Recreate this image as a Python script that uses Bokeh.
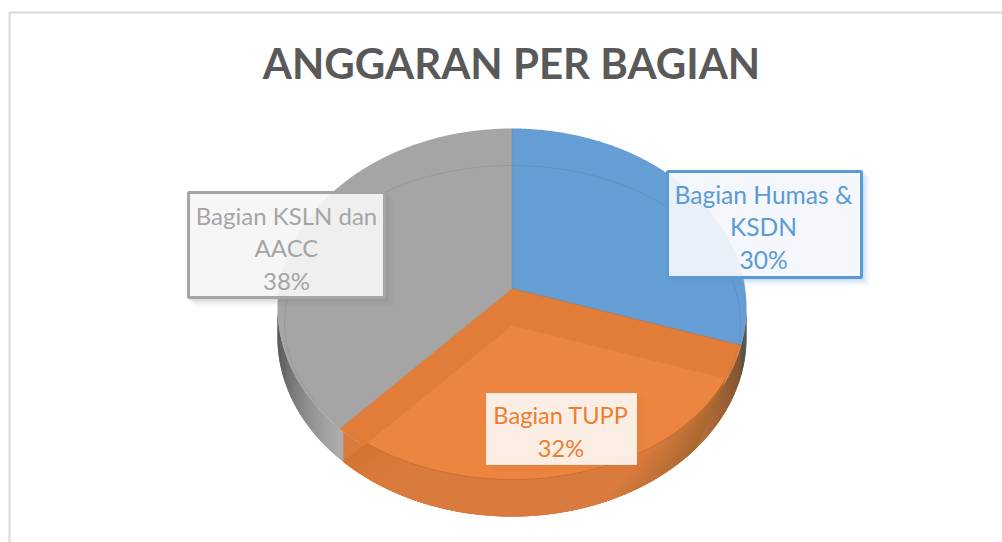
import numpy as np
from bokeh.plotting import figure
from bokeh.embed import file_html
from bokeh.resources import INLINE
from bokeh.core.properties import value

title = "ANGGARAN PER BAGIAN"
categories = ["Bagian Humas & KSDN", "Bagian TUPP", "Bagian KSLN dan AACC"]
shares = [30, 32, 38]
series_colors = ["#659DD5", "#E17D39", "#A5A5A5"]
text_colors = ["#5B9BD5", "#ED7D31", "#A5A5A5"]

W, H = 1002, 542
p = figure(width=W, height=H, x_range=(0, W), y_range=(H, 0),
           output_backend="svg", toolbar_location=None, min_border=0,
           x_axis_type=None, y_axis_type=None, outline_line_color=None)
p.grid.visible = False
p.background_fill_color = "white"
p.border_fill_color = "white"

# frame
p.line([9, 9, 1002], [542, 12, 12], line_color="#D9D9D9", line_width=2)

# pie geometry
CX, CY, RX, RY = 511.5, 307.0, 234.5, 179.0   # rim ellipse
AX, AY = 511.5, 288.0                          # apex
K = RY / RX
DEPTH = 30.0
IX, IY, IRX, IRY = 512.0, 322.0, 228.0, 157.0  # inner ellipse


def hit(theta, ax, ay, cx, cy, rx, ry):
    """Point on an ellipse reached from an off-centre apex along a share angle."""
    dx, dy = np.sin(theta), -K * np.cos(theta)
    ox, oy = (ax - cx) / rx, (ay - cy) / ry
    ux, uy = dx / rx, dy / ry
    a = ux * ux + uy * uy
    b = 2 * (ox * ux + oy * uy)
    c = ox * ox + oy * oy - 1
    s = (-b + np.sqrt(b * b - 4 * a * c)) / (2 * a)
    return ax + s * dx, ay + s * dy


def param(x, y, cx, cy, rx, ry):
    return np.arctan2((x - cx) / rx, -(y - cy) / ry) % (2 * np.pi)


edges = np.cumsum([0] + shares) / 100 * 2 * np.pi


def mix(c1, c2, f):
    a = [int(c1[i:i + 2], 16) for i in (1, 3, 5)]
    b = [int(c2[i:i + 2], 16) for i in (1, 3, 5)]
    return "#%02x%02x%02x" % tuple(int(round(u + (v - u) * f)) for u, v in zip(a, b))


def rim(t, d=0.0):
    return CX + RX * np.sin(t), CY - RY * np.cos(t) + d


t_blue = param(*hit(edges[1], AX, AY, CX, CY, RX, RY), CX, CY, RX, RY)
t_oran = param(*hit(edges[2], AX, AY, CX, CY, RX, RY), CX, CY, RX, RY)

# side: strips with gradient (painted from the back forward, each overlapping the next)
ts = np.radians(np.arange(90, 270.5, 0.5))
for a, b in zip(ts[:-1], ts[1:]):
    m = (a + b) / 2
    if m < t_blue:
        col = "#4d4a48"
    elif m < t_oran - 0.02:
        f = np.clip((np.degrees(m) - 102) / 38, 0, 1)
        col = mix("#7a5230", "#D97B3E", f)
    else:
        f = (np.degrees(m) - np.degrees(t_oran)) / (270 - np.degrees(t_oran))
        col = mix("#adadad", "#404040", np.clip(f, 0, 1) ** 1.1)
    b2 = b + np.radians(0.5)
    x0, y0 = rim(a)
    x1, y1 = rim(b2)
    x2, y2 = rim(b2, DEPTH)
    x3, y3 = rim(a, DEPTH)
    p.patch([x0, x1, x2, x3], [y0, y1, y2, y3], fill_color=col, line_color=None)


def wedge(e0, e1, ax, ay, cx, cy, rx, ry, col, alpha=1.0):
    t0 = param(*hit(e0, ax, ay, cx, cy, rx, ry), cx, cy, rx, ry)
    t1 = param(*hit(e1, ax, ay, cx, cy, rx, ry), cx, cy, rx, ry)
    if t1 <= t0:
        t1 += 2 * np.pi
    t = np.linspace(t0, t1, 160)
    xs = np.r_[ax, cx + rx * np.sin(t)]
    ys = np.r_[ay, cy - ry * np.cos(t)]
    p.patch(xs, ys, fill_color=col, fill_alpha=alpha, line_color=None)


# top faces
wedge(edges[0], edges[1], AX, AY, CX, CY, RX, RY, series_colors[0])
wedge(edges[1], edges[2], AX, AY, CX, CY, RX, RY, series_colors[1])
wedge(edges[2], edges[3], AX, AY, CX, CY, RX, RY, series_colors[2])

# front lip of the orange slice: between inner ellipse and outer silhouette, in strips
i0 = param(*hit(edges[1], AX, 325.0, IX, IY, IRX, IRY), IX, IY, IRX, IRY)
i1 = param(*hit(edges[2], AX, 325.0, IX, IY, IRX, IRY), IX, IY, IRX, IRY)
n = 140
ti = np.linspace(i0, i1, n)
inner_x = IX + IRX * np.sin(ti)
inner_y = IY - IRY * np.cos(ti)
to = np.linspace(np.radians(128), t_oran - 0.02, n)
outer_x = CX + RX * np.sin(to)
outer_y = CY - RY * np.cos(to) + DEPTH
for i in range(n - 1):
    f = i / (n - 2)
    if f < 0.3:
        col = mix("#A8682F", "#D97B3E", f / 0.3)
    elif f > 0.88:
        col = mix("#D97B3E", "#D3742F", (f - 0.88) / 0.12)
    else:
        col = "#D97B3E"
    j = min(i + 2, n - 1)
    p.patch([inner_x[i], inner_x[j], outer_x[j], outer_x[i]],
            [inner_y[i], inner_y[j], outer_y[j], outer_y[i]], fill_color=col, line_color=None)

# lighter inner orange
wedge(edges[1], edges[2], AX, 325.0, IX, IY, IRX, IRY, "#EB853F")

# slice separators and inner ring hairline
for e, col in zip(edges[:3], ["#7d8ea0", "#9b6f4e", "#A08A78"]):
    ex, ey = hit(e, AX, AY, CX, CY, RX, RY)
    p.line([AX, ex], [AY, ey], line_color=col, line_width=1, line_alpha=0.7)
tr = np.linspace(-2.1, 1.9, 240)
p.line(IX + IRX * np.sin(tr), IY - IRY * np.cos(tr), line_color="#555555", line_alpha=0.15, line_width=1)
p.line(inner_x, inner_y, line_color="#B5622A", line_alpha=0.55, line_width=1)

# labels
boxes = [(667, 861, 171, 277), (486, 636, 393, 464), (188, 384, 192, 297)]
lines = [["Bagian Humas &", "KSDN", "30%"], ["Bagian TUPP", "32%"], ["Bagian KSLN dan", "AACC", "38%"]]
border_w = [3, 1, 3]
borders = ["#5B9BD5", "#F6E9E0", "#A5A5A5"]
fills = ["#F8FAFE", "#FBF3EE", "#F8F8F8"]
fill_alpha = [0.9, 0.94, 0.9]
shadow = ["#5B9BD5", "#ED7D31", "#7F7F7F"]
ytxt = [[194, 226, 259], [414, 447], [215, 247, 280]]
xtxt = [763, 560.5, 286]
sizes = ["24.6px", "23.6px", "24px"]
for k in range(3):
    x0, x1, y0, y1 = boxes[k]
    for off, al in [(9, 0.04), (7, 0.06), (5, 0.09), (3, 0.13)]:
        p.quad(left=x0 + off - 3, right=x1 + off, top=y0 + off - 3, bottom=y1 + off,
               fill_color=shadow[k], fill_alpha=al, line_color=None)
    p.quad(left=x0, right=x1, top=y0, bottom=y1, fill_color=fills[k], fill_alpha=fill_alpha[k],
           line_color=borders[k], line_width=border_w[k])
    p.text(x=[xtxt[k]] * len(lines[k]), y=ytxt[k], text=lines[k], text_color=text_colors[k],
           text_font=value("Lato"), text_font_size=sizes[k], text_align="center", text_baseline="middle")

p.text(x=[511], y=[62], text=[title], text_color="#595959", text_font=value("Lato"),
       text_font_style="bold", text_font_size="42px", text_align="center", text_baseline="middle")

open("out.html", "w").write(file_html(p, INLINE))
